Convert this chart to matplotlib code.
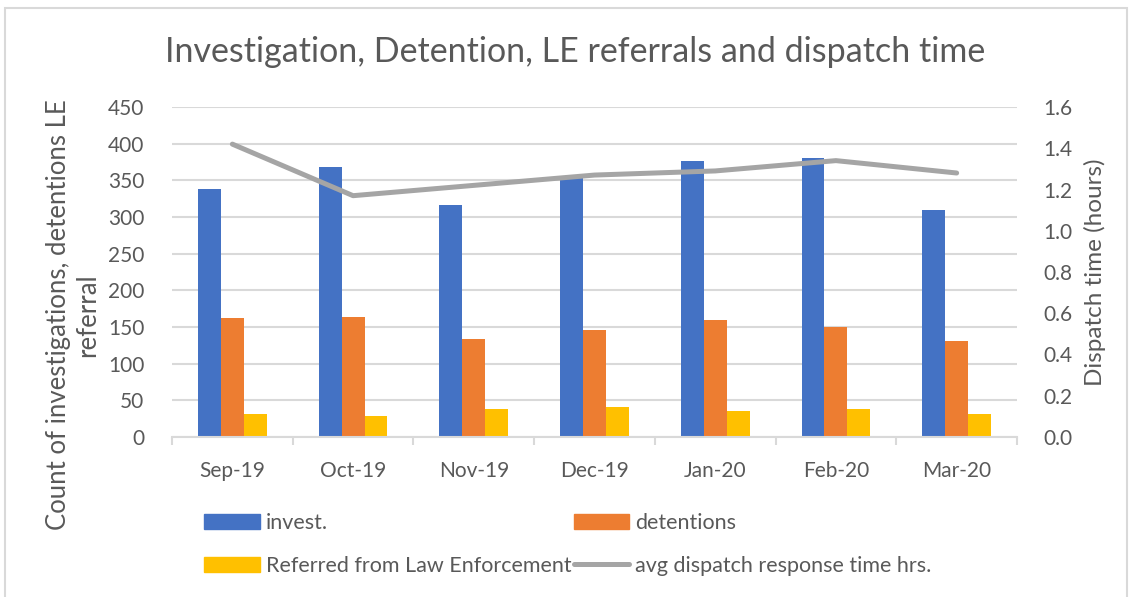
import matplotlib.pyplot as plt
import numpy as np
from matplotlib.patches import Rectangle, Patch
from matplotlib.lines import Line2D

plt.rcParams['font.family'] = ['Lato', 'DejaVu Sans']

# Data
months = ['Sep-19', 'Oct-19', 'Nov-19', 'Dec-19', 'Jan-20', 'Feb-20', 'Mar-20']
invest = [338, 368, 316, 353, 376, 381, 309]
detentions = [162, 164, 134, 146, 160, 150, 131]
le_referred = [31, 29, 38, 41, 36, 38, 31]
dispatch_hrs = [1.42, 1.17, 1.22, 1.27, 1.29, 1.34, 1.28]

text_col = '#595959'
grid_col = '#D9D9D9'

fig = plt.figure(figsize=(11.35, 5.97), dpi=100)
ax = fig.add_axes([172 / 1135, 1 - 437 / 597, 845 / 1135, 330 / 597])

x = np.arange(len(months))
w = 0.19
ax.bar(x - w, invest, w, color='#4472C4', zorder=2)
ax.bar(x, detentions, w, color='#ED7D31', zorder=2)
ax.bar(x + w, le_referred, w, color='#FFC000', zorder=2)

ax.set_xlim(-0.5, len(months) - 0.5)
ax.set_ylim(0, 450)
ax.set_yticks(range(0, 451, 50))
ax.yaxis.grid(True, color=grid_col, lw=1.5, zorder=0)
ax.set_axisbelow(True)
for s in ['top', 'right', 'left']:
    ax.spines[s].set_visible(False)
ax.spines['bottom'].set_color(grid_col)
ax.spines['bottom'].set_linewidth(1.5)
ax.tick_params(axis='y', length=0, labelsize=15, labelcolor=text_col, pad=20)
ax.set_xticks(x)
ax.set_xticklabels(months)
ax.tick_params(axis='x', length=0, labelsize=15, labelcolor=text_col, pad=17)
ax.set_xticks(np.arange(-0.5, len(months), 1), minor=True)
ax.tick_params(axis='x', which='minor', length=6, color=grid_col, width=1.5)
ax.set_ylabel('Count of investigations, detentions LE\nreferral', fontsize=18.5,
              color=text_col, linespacing=1.2)
ax.yaxis.set_label_coords(-0.085, 0.37)

ax2 = ax.twinx()
ax2.plot(x, dispatch_hrs, color='#A5A5A5', lw=3.6, solid_capstyle='round', zorder=3)
ax2.set_ylim(0, 1.6)
ax2.set_yticks(np.arange(0, 1.61, 0.2))
ax2.set_yticklabels([f'{v:.1f}' for v in np.arange(0, 1.61, 0.2)])
for s in ['top', 'right', 'left', 'bottom']:
    ax2.spines[s].set_visible(False)
ax2.tick_params(axis='y', length=0, labelsize=15, labelcolor=text_col, pad=19)
ax2.set_ylabel('Dispatch time (hours)', fontsize=17.5, color=text_col, labelpad=8)

fig.text(575 / 1135, 1 - 52 / 597, 'Investigation, Detention, LE referrals and dispatch time',
         ha='center', va='center', fontsize=24.5, color=text_col)

handles = [Patch(color='#4472C4'), Patch(color='#FFC000'), Patch(color='#ED7D31'),
           Line2D([0], [0], color='#A5A5A5', lw=3.6, solid_capstyle='round')]
labels = ['invest.', 'Referred from Law Enforcement', 'detentions',
          'avg dispatch response time hrs.']
fig.legend(handles, labels, ncol=2, loc='upper left',
           bbox_to_anchor=(185 / 1135, 1 - 494 / 597), frameon=False,
           fontsize=15.5, labelcolor=text_col, handlelength=2.6, handleheight=0.7,
           handletextpad=0.25, columnspacing=0.1, labelspacing=1.05)

fig.add_artist(Rectangle((5 / 1135, -0.02), 1122 / 1135, 1 - 8 / 597 + 0.02,
                         transform=fig.transFigure, fill=False, ec='#D9D9D9', lw=1.5))

fig.savefig('out.png', dpi=100)
